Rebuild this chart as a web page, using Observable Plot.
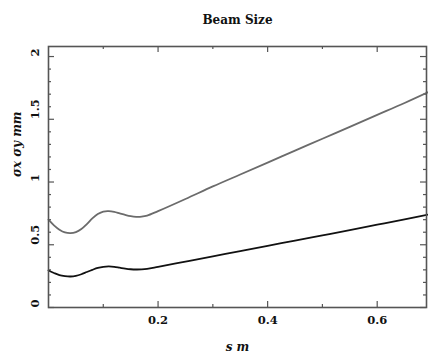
<!DOCTYPE html>
<html>
<head>
<meta charset="utf-8">
<script src="https://cdn.jsdelivr.net/npm/d3@7"></script>
<script src="https://cdn.jsdelivr.net/npm/@observablehq/plot@0.6"></script>
<style>
  html, body { margin: 0; padding: 0; background: #fff; }
  svg { display: block; }
</style>
</head>
<body>
<div id="chart"></div>
<script>
// Data
const s = [0, 0.01, 0.02, 0.03, 0.04, 0.05, 0.06, 0.07, 0.08, 0.09, 0.10, 0.11, 0.12, 0.13, 0.14, 0.15, 0.16, 0.17, 0.18, 0.20, 0.25, 0.30, 0.35, 0.40, 0.45, 0.50, 0.55, 0.60, 0.65, 0.70];
const sigmaX = [0.70, 0.655, 0.62, 0.598, 0.592, 0.60, 0.625, 0.665, 0.71, 0.745, 0.765, 0.768, 0.762, 0.750, 0.738, 0.728, 0.723, 0.724, 0.732, 0.768, 0.865, 0.965, 1.06, 1.155, 1.25, 1.345, 1.44, 1.535, 1.63, 1.73];
const sigmaY = [0.295, 0.275, 0.258, 0.25, 0.247, 0.252, 0.265, 0.283, 0.30, 0.315, 0.324, 0.327, 0.324, 0.317, 0.31, 0.305, 0.303, 0.304, 0.308, 0.324, 0.366, 0.408, 0.45, 0.492, 0.533, 0.575, 0.617, 0.66, 0.703, 0.747];

const xMajor = [0.2, 0.4, 0.6];
const xMinor = [0.1, 0.3, 0.5];
const xLabels = ["0.2", "0.4", "0.6"];
const yMajor = [0, 0.5, 1, 1.5, 2];
const yMinor = [0.1, 0.2, 0.3, 0.4, 0.6, 0.7, 0.8, 0.9, 1.1, 1.2, 1.3, 1.4, 1.6, 1.7, 1.8, 1.9];
const yLabels = ["0", "0.5", "1", "1.5", "2"];

const title = "Beam Size";
const xTitle = "s m";
const yTitle = "σx σy mm";

const rowsX = s.map((v, i) => ({s: v, v: sigmaX[i]}));
const rowsY = s.map((v, i) => ({s: v, v: sigmaY[i]}));

const W = 428, H = 361;
const mL = 48, mR = 2, mT = 46, mB = 54;
const pw = W - mL - mR, ph = H - mT - mB;
const axisColor = "#555";
const font = "'DejaVu Serif', serif";

const chart = Plot.plot({
  width: W,
  height: H,
  marginLeft: mL,
  marginRight: mR,
  marginTop: mT,
  marginBottom: mB,
  style: {fontFamily: font, background: "#fff"},
  x: {domain: [0, 0.69], axis: null},
  y: {domain: [0, 2.08], axis: null},
  marks: [
    // ticks, inward, on all four sides
    Plot.ruleX(xMajor, {x: d => d, insetTop: ph - 6, stroke: axisColor, strokeWidth: 1.2}),
    Plot.ruleX(xMinor, {x: d => d, insetTop: ph - 3, stroke: axisColor, strokeWidth: 1.2}),
    Plot.ruleX(xMajor, {x: d => d, insetBottom: ph - 6, stroke: axisColor, strokeWidth: 1.2}),
    Plot.ruleX(xMinor, {x: d => d, insetBottom: ph - 3, stroke: axisColor, strokeWidth: 1.2}),
    Plot.ruleY(yMajor, {y: d => d, insetRight: pw - 6, stroke: axisColor, strokeWidth: 1.2}),
    Plot.ruleY(yMinor, {y: d => d, insetRight: pw - 3, stroke: axisColor, strokeWidth: 1.2}),
    Plot.ruleY(yMajor, {y: d => d, insetLeft: pw - 6, stroke: axisColor, strokeWidth: 1.2}),
    Plot.ruleY(yMinor, {y: d => d, insetLeft: pw - 3, stroke: axisColor, strokeWidth: 1.2}),
    // curves
    Plot.line(rowsX, {x: "s", y: "v", stroke: "#6b6b6b", strokeWidth: 1.8, curve: "catmull-rom"}),
    Plot.line(rowsY, {x: "s", y: "v", stroke: "#111", strokeWidth: 1.8, curve: "catmull-rom"}),
    Plot.frame({stroke: axisColor, strokeWidth: 1.6}),
    // tick labels
    Plot.text(xMajor, {x: d => d, frameAnchor: "bottom", dy: 16, text: (d, i) => xLabels[i], fontSize: 11.5, fontWeight: "bold", fill: "#111"}),
    Plot.text(yMajor, {y: d => d, frameAnchor: "left", dx: -13, rotate: -90, text: (d, i) => yLabels[i], fontSize: 11.5, fontWeight: "bold", fill: "#111"}),
    // titles
    Plot.text([title], {frameAnchor: "top", dy: -31, text: d => d, fontSize: 12, fontWeight: "bold", fill: "#111"}),
    Plot.text([xTitle], {frameAnchor: "bottom", dy: 43, text: d => d, fontSize: 12, fontWeight: "bold", fontStyle: "italic", fill: "#111"}),
    Plot.text([yTitle], {frameAnchor: "left", dx: -31, rotate: -90, text: d => d, fontSize: 12, fontWeight: "bold", fontStyle: "italic", fill: "#111"})
  ]
});
document.getElementById("chart").appendChild(chart);
</script>
</body>
</html>
